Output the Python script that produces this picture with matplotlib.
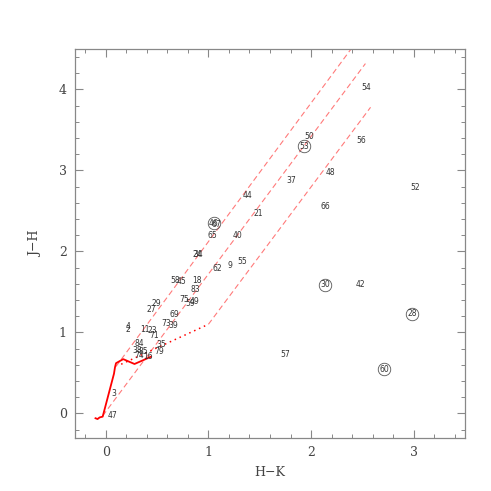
import matplotlib
matplotlib.use('Agg')
import matplotlib.pyplot as plt
import numpy as np

# star labels and their colours (H-K, J-H)
labels = ['54', '50', '53', '56', '48', '37', '52', '44', '66', '21',
          '46', '67', '65', '40', '24', '34', '62', '9', '55', '58',
          '45', '18', '83', '75', '59', '49', '29', '27', '69', '73',
          '39', '4', '2', '11', '23', '71', '84', '38', '85', '74',
          '16', '35', '79', '3', '47', '30', '42', '28', '57', '60']
hk = [2.54, 1.98, 1.935, 2.49, 2.185, 1.81, 3.01, 1.38, 2.14, 1.486,
      1.05, 1.08, 1.04, 1.284, 0.895, 0.905, 1.09, 1.21, 1.33, 0.676,
      0.74, 0.89, 0.87, 0.76, 0.82, 0.865, 0.49, 0.44, 0.67, 0.59,
      0.66, 0.22, 0.22, 0.38, 0.455, 0.47, 0.325, 0.31, 0.37, 0.325,
      0.416, 0.54, 0.52, 0.074, 0.065, 2.137, 2.48, 2.985, 1.746, 2.715]
jh = [4.03, 3.42, 3.30, 3.37, 2.98, 2.87, 2.79, 2.69, 2.56, 2.47,
      2.35, 2.33, 2.20, 2.20, 1.96, 1.96, 1.79, 1.83, 1.88, 1.64,
      1.63, 1.64, 1.53, 1.41, 1.36, 1.385, 1.36, 1.28, 1.22, 1.11,
      1.09, 1.07, 1.04, 1.04, 1.02, 0.96, 0.86, 0.78, 0.76, 0.72,
      0.70, 0.855, 0.77, 0.24, -0.03, 1.59, 1.59, 1.233, 0.723, 0.546]
circled = ['53', '46', '30', '28', '60']

# dwarf locus
dwarf_hk = [-0.10, -0.08, -0.06, -0.03, 0.08, 0.09, 0.10, 0.17, 0.28, 0.37, 0.44]
dwarf_jh = [-0.06, -0.07, -0.05, -0.04, 0.49, 0.57, 0.62, 0.67, 0.61, 0.66, 0.70]

# CTTS locus end points
ctts_hk = [0.15, 1.0]
ctts_jh = [0.607, 1.10]

# reddening lines (start, end)
red_hk = [[0.10, 2.39], [-0.03, 2.53], [1.0, 2.58]]
red_jh = [[0.58, 4.50], [-0.03, 4.32], [1.10, 3.78]]

fig = plt.figure(figsize=(4.91, 4.91), dpi=100)
ax = fig.add_axes([0.1527, 0.1086, 0.7943, 0.7916])

for xs, ys in zip(red_hk, red_jh):
    ax.plot(xs, ys, color='#ff7a7a', lw=0.8, ls=(0, (5, 3)))
ax.plot(ctts_hk, ctts_jh, color='red', lw=1.1, ls=(0, (1, 2.5)))
ax.plot(dwarf_hk, dwarf_jh, color='red', lw=1.3)

for lab, x, y in zip(labels, hk, jh):
    ax.text(x, y, lab, fontsize=5.5, color='#333333', ha='center', va='center',
            family='DejaVu Sans')
    if lab in circled:
        ax.plot(x, y, 'o', ms=9, mfc='none', mec='#555555', mew=0.6)

ax.set_xlim(-0.3, 3.5)
ax.set_ylim(-0.3, 4.5)
ax.set_xticks([0, 1, 2, 3])
ax.set_yticks([0, 1, 2, 3, 4])
ax.set_xticks(np.arange(-0.2, 3.5, 0.2), minor=True)
ax.set_yticks(np.arange(-0.2, 4.5, 0.2), minor=True)
ax.tick_params(which='both', direction='in', top=True, right=True,
               color='#888888', labelcolor='#444444', labelsize=9)
ax.tick_params(which='major', length=6, width=0.8, pad=6)
ax.tick_params(which='minor', length=3, width=0.7)
for lab in ax.get_xticklabels() + ax.get_yticklabels():
    lab.set_family('DejaVu Serif')
for s in ax.spines.values():
    s.set_color('#888888')
    s.set_linewidth(0.9)

ax.set_xlabel('H\u2212K', family='DejaVu Serif', fontsize=9, color='#444444', labelpad=5)
ax.set_ylabel('J\u2212H', family='DejaVu Serif', fontsize=9, color='#444444', labelpad=12)

fig.savefig('out.png', dpi=100)
